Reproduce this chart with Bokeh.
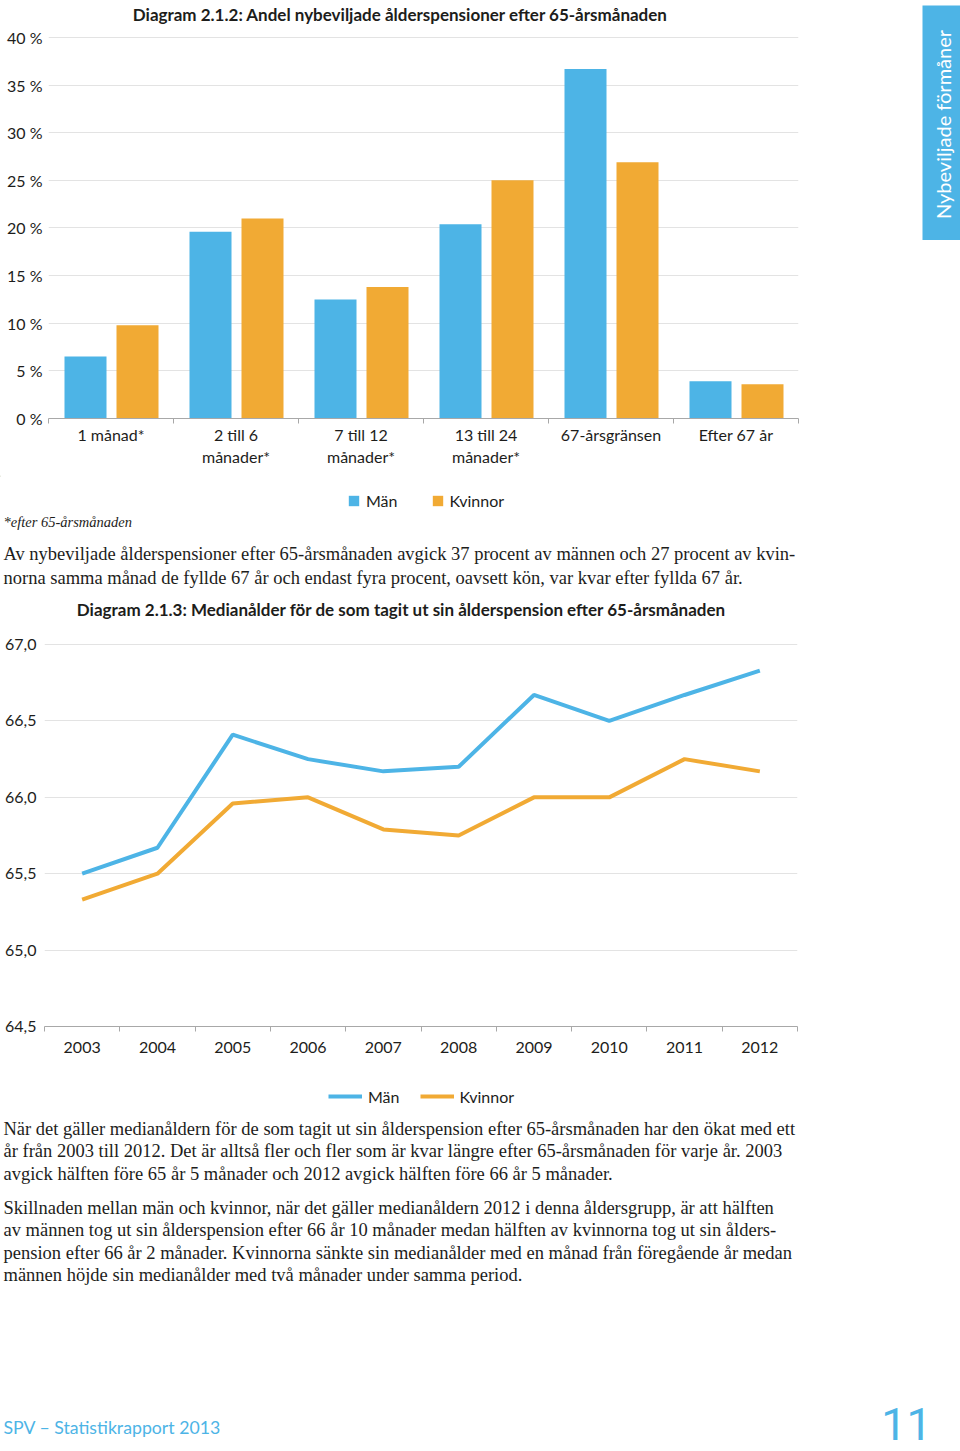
from bokeh.plotting import figure
from bokeh.models import (Range1d, FixedTicker, Legend, LegendItem,
                          ColumnDataSource, CustomJSTickFormatter)
from bokeh.layouts import column, row
from bokeh.embed import file_html
from bokeh.resources import INLINE
from bokeh.transform import dodge
from bokeh.core.properties import value

# ---------------- data ----------------
categories = ["1 månad*", "2 till 6\nmånader*", "7 till 12\nmånader*",
              "13 till 24\nmånader*", "67-årsgränsen", "Efter 67 år"]
man_share = [6.5, 19.6, 12.5, 20.4, 36.7, 3.9]
kvinnor_share = [9.8, 21.0, 13.8, 25.0, 26.9, 3.6]
pct_ticks = [0, 5, 10, 15, 20, 25, 30, 35, 40]

years = [2003, 2004, 2005, 2006, 2007, 2008, 2009, 2010, 2011, 2012]
man_median = [65.50, 65.67, 66.41, 66.25, 66.17, 66.20, 66.67, 66.50, 66.67, 66.83]
kvinnor_median = [65.33, 65.50, 65.96, 66.00, 65.79, 65.75, 66.00, 66.00, 66.25, 66.17]
median_ticks = [64.5, 65.0, 65.5, 66.0, 66.5, 67.0]

series_names = ["Män", "Kvinnor"]

title1 = "Diagram 2.1.2: Andel nybeviljade ålderspensioner efter 65-årsmånaden"
title2 = "Diagram 2.1.3: Medianålder för de som tagit ut sin ålderspension efter 65-årsmånaden"
footnote = "*efter 65-årsmånaden"
side_text = "Nybeviljade förmåner"
para1 = ["Av nybeviljade ålderspensioner efter 65-årsmånaden avgick 37 procent av männen och 27 procent av kvin-",
         "norna samma månad de fyllde 67 år och endast fyra procent, oavsett kön, var kvar efter fyllda 67 år."]
para2 = ["När det gäller medianåldern för de som tagit ut sin ålderspension efter 65-årsmånaden har den ökat med ett",
         "år från 2003 till 2012. Det är alltså fler och fler som är kvar längre efter 65-årsmånaden för varje år. 2003",
         "avgick hälften före 65 år 5 månader och 2012 avgick hälften före 66 år 5 månader."]
para3 = ["Skillnaden mellan män och kvinnor, när det gäller medianåldern 2012 i denna åldersgrupp, är att hälften",
         "av männen tog ut sin ålderspension efter 66 år 10 månader medan hälften av kvinnorna tog ut sin ålders-",
         "pension efter 66 år 2 månader. Kvinnorna sänkte sin medianålder med en månad från föregående år medan",
         "männen höjde sin medianålder med två månader under samma period."]
footer = "SPV – Statistikrapport 2013"
page_no = "11"

BLUE = "#4db4e6"
ORANGE = "#f1aa34"
TXT = "#1d1d1b"
GRID = "#e3e3e3"
AXIS = "#a8a8a8"
SANS = "Lato"
SERIF = "Liberation Serif"


def strip(w, h, flip=True):
    yr = Range1d(h, 0) if flip else Range1d(0, h)
    p = figure(width=w, height=h, x_range=Range1d(0, w), y_range=yr,
               output_backend="svg", toolbar_location=None, title=None,
               x_axis_location=None, y_axis_location=None,
               min_border_left=0, min_border_right=0,
               min_border_top=0, min_border_bottom=0, frame_align=False)
    p.grid.visible = False
    p.outline_line_color = None
    p.background_fill_color = "white"
    p.border_fill_color = "white"
    return p


def put(p, x, y, txt, size, font=SANS, style="normal", color=TXT,
        align="left", baseline="middle", angle=0.0):
    p.text(x=[x], y=[y], text=[txt], text_font=value(font),
           text_font_size=value(f"{size}px"), text_font_style=style,
           text_color=color, text_align=align, text_baseline=baseline,
           angle=angle)


def style_axes(p, xstandoff):
    xa = p.xaxis[0]
    xa.axis_line_color = AXIS
    xa.major_tick_in = 0
    xa.major_tick_out = 0
    xa.minor_tick_in = 0
    xa.minor_tick_out = 5
    xa.minor_tick_line_color = AXIS
    xa.major_label_standoff = xstandoff
    xa.major_label_text_font = SANS
    xa.major_label_text_font_size = "16px"
    xa.major_label_text_color = TXT
    ya = p.yaxis[0]
    ya.axis_line_color = None
    ya.major_tick_in = 0
    ya.major_tick_out = 0
    ya.minor_tick_line_color = None
    ya.major_label_text_font = SANS
    ya.major_label_text_font_size = "16px"
    ya.major_label_text_color = TXT
    p.xgrid.visible = False
    p.ygrid.grid_line_color = GRID
    p.outline_line_color = None
    p.background_fill_color = "white"
    p.border_fill_color = "white"


# ---------------- title strip (page y 0..24) ----------------
T1 = strip(922, 24)
put(T1, 400, 14, title1, 17, style="bold", align="center")

# ---------------- bar chart (page y 24..475) ----------------
pA = figure(width=922, height=451, x_range=Range1d(0, 6), y_range=Range1d(0, 40.1),
            output_backend="svg", toolbar_location=None, title=None,
            min_border_left=48, min_border_right=124,
            min_border_top=12, min_border_bottom=57, frame_align=False)
srcA = ColumnDataSource(dict(x=[i + 0.5 for i in range(len(categories))],
                             man=man_share, kv=kvinnor_share))
pA.vbar(x=dodge("x", -0.204), top="man", width=0.336, bottom=0,
        source=srcA, fill_color=BLUE, line_color=None)
pA.vbar(x=dodge("x", 0.212), top="kv", width=0.336, bottom=0,
        source=srcA, fill_color=ORANGE, line_color=None)
style_axes(pA, 1)
pA.xaxis[0].ticker = FixedTicker(ticks=[i + 0.5 for i in range(len(categories))],
                                 minor_ticks=list(range(len(categories) + 1)))
pA.xaxis[0].major_label_overrides = {i + 0.5: c for i, c in enumerate(categories)}
pA.xaxis[0].major_label_text_line_height = 1.2
pA.yaxis[0].ticker = FixedTicker(ticks=pct_ticks)
pA.yaxis[0].formatter = CustomJSTickFormatter(code="return tick + ' %'")
pA.yaxis[0].major_label_standoff = 6
pA.ygrid.ticker = FixedTicker(ticks=pct_ticks)

# ---------------- side tab (page x 922..960, y 0..240) ----------------
S = figure(width=38, height=240, x_range=Range1d(0, 38), y_range=Range1d(0, 235),
           output_backend="svg", toolbar_location=None, title=None,
           x_axis_location=None, y_axis_location=None,
           min_border_left=0, min_border_right=0, min_border_top=5,
           min_border_bottom=0, frame_align=False)
S.grid.visible = False
S.outline_line_color = None
S.background_fill_color = BLUE
S.border_fill_color = "white"
put(S, 20, 116, side_text, 20, color="white", align="center", angle=1.5707963)

# ---------------- strip between charts (page y 475..625) ----------------
T2 = strip(960, 150)
# legend swatch renderers (single point placed outside the visible range)
swatch = ColumnDataSource(dict(x=[-100], top=[1]))
lg1 = T2.vbar(x="x", top="top", width=1, source=swatch, fill_color=BLUE, line_color=None)
lg2 = T2.vbar(x="x", top="top", width=1, source=swatch, fill_color=ORANGE, line_color=None)
T2.add_layout(Legend(items=[LegendItem(label=series_names[0], renderers=[lg1]),
                            LegendItem(label=series_names[1], renderers=[lg2])],
                     orientation="horizontal", location=(347, 115), padding=0, margin=0,
                     border_line_color=None, background_fill_alpha=0,
                     glyph_width=13, glyph_height=13, label_standoff=6, spacing=33,
                     label_text_font=SANS, label_text_font_size="16px",
                     label_text_color=TXT, label_height=20))
put(T2, 3, 46, footnote, 14.5, font=SERIF, style="italic")
for i, line in enumerate(para1):
    put(T2, 3, 78 + 24 * i, line, 18.5, font=SERIF)
put(T2, 401, 134, title2, 17, style="bold", align="center")

# ---------------- line chart (page y 625..1070) ----------------
pB = figure(width=960, height=445, x_range=Range1d(2002.5, 2012.5),
            y_range=Range1d(64.5, 67.007),
            output_backend="svg", toolbar_location=None, title=None,
            min_border_left=44, min_border_right=163,
            min_border_top=18, min_border_bottom=44, frame_align=False)
pB.line(years, man_median, line_width=4, line_color=BLUE)
pB.line(years, kvinnor_median, line_width=4, line_color=ORANGE)
style_axes(pB, 10)
pB.xaxis[0].ticker = FixedTicker(ticks=years,
                                 minor_ticks=[y - 0.5 for y in years] + [years[-1] + 0.5])
pB.yaxis[0].ticker = FixedTicker(ticks=median_ticks)
pB.yaxis[0].formatter = CustomJSTickFormatter(code="return tick.toFixed(1).replace('.', ',')")
pB.yaxis[0].major_label_standoff = 8
pB.ygrid.ticker = FixedTicker(ticks=median_ticks)

# ---------------- bottom strip (page y 1070..1451) ----------------
T3 = strip(960, 381)
swatch_line = ColumnDataSource(dict(x=[-110, -100], y=[1, 1]))
lg3 = T3.line(x="x", y="y", source=swatch_line, line_width=4, line_color=BLUE)
lg4 = T3.line(x="x", y="y", source=swatch_line, line_width=4, line_color=ORANGE)
T3.add_layout(Legend(items=[LegendItem(label=series_names[0], renderers=[lg3]),
                            LegendItem(label=series_names[1], renderers=[lg4])],
                     orientation="horizontal", location=(328, 345), padding=0, margin=0,
                     border_line_color=None, background_fill_alpha=0,
                     glyph_width=34, glyph_height=14, label_standoff=6, spacing=20,
                     label_text_font=SANS, label_text_font_size="16px",
                     label_text_color=TXT, label_height=20))
for i, line in enumerate(para2):
    put(T3, 3, 58 + 22.6 * i, line, 18.5, font=SERIF)
for i, line in enumerate(para3):
    put(T3, 3, 137 + 22.6 * i, line, 18.5, font=SERIF)
put(T3, 3, 357, footer, 17.7, color=BLUE)
put(T3, 906, 353, page_no, 45, font="Roboto", color=BLUE, align="center")

layout = column(row(column(T1, pA), S), T2, pB, T3)
open("out.html", "w").write(file_html(layout, INLINE))
